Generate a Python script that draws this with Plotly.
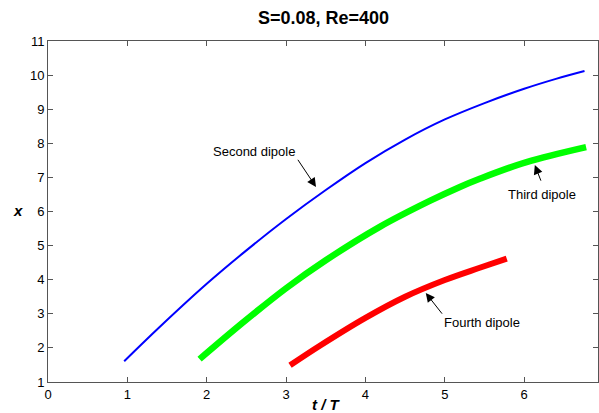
import plotly.graph_objects as go

# Second dipole (blue)
t2 = [0.96, 1.41, 2.0, 2.5, 3.0, 3.5, 4.0, 4.5, 5.0, 5.5, 6.0, 6.4, 6.76]
x2 = [1.61, 2.62, 3.88, 4.86, 5.78, 6.63, 7.42, 8.11, 8.70, 9.18, 9.60, 9.89, 10.12]
# Third dipole (green)
t3 = [1.91, 2.46, 3.0, 3.5, 4.18, 4.81, 5.19, 5.44, 6.03, 6.78]
x3 = [1.67, 2.75, 3.75, 4.57, 5.55, 6.31, 6.72, 6.96, 7.45, 7.89]
# Fourth dipole (red)
t4 = [3.05, 3.43, 4.0, 4.5, 5.0, 5.44, 5.78]
x4 = [1.49, 2.07, 2.88, 3.50, 3.99, 4.35, 4.62]

xticks = [0, 1, 2, 3, 4, 5, 6]
yticks = [1, 2, 3, 4, 5, 6, 7, 8, 9, 10, 11]

FONT = "Liberation Sans, Arial, Helvetica, sans-serif"

fig = go.Figure()
fig.add_trace(go.Scatter(x=t2, y=x2, mode="lines", line=dict(color="#0000FF", width=2, shape="spline", smoothing=1.0), name="Second dipole"))
fig.add_trace(go.Scatter(x=t3, y=x3, mode="lines", line=dict(color="#00FF00", width=6.5, shape="spline", smoothing=1.0), name="Third dipole"))
fig.add_trace(go.Scatter(x=t4, y=x4, mode="lines", line=dict(color="#FF0000", width=6, shape="spline", smoothing=1.0), name="Fourth dipole"))

axis_common = dict(showline=True, linecolor="#555555", linewidth=1, mirror="ticks",
                   ticks="inside", ticklen=5, tickcolor="#555555", showgrid=False,
                   zeroline=False, tickfont=dict(family=FONT, size=13, color="black"))

fig.update_xaxes(range=[0, 6.93], tickvals=xticks, ticktext=[str(v) for v in xticks], **axis_common)
fig.update_yaxes(range=[1, 11], tickvals=yticks, ticktext=[str(v) for v in yticks], **axis_common)

ann = []
ann.append(dict(text="<b>S=0.08, Re=400</b>", xref="paper", yref="paper", x=0.5, y=1 + (41 - 18) / 341,
                xanchor="center", yanchor="middle", showarrow=False, font=dict(family=FONT, size=18, color="black")))
ann.append(dict(text="<b><i>t / T</i></b>", xref="paper", yref="paper", x=(326 - 48) / 550, y=-(404 - 381.7) / 341,
                xanchor="center", yanchor="middle", showarrow=False, font=dict(family=FONT, size=15, color="black")))
ann.append(dict(text="<b><i>x</i></b>", xref="paper", yref="paper", x=(18 - 48) / 550, y=(381.7 - 210) / 341,
                xanchor="center", yanchor="middle", showarrow=False, font=dict(family=FONT, size=15, color="black")))
for txt, tx, ty in [("Second dipole", 2.6, 7.77), ("Third dipole", 6.22, 6.50), ("Fourth dipole", 5.47, 2.74)]:
    ann.append(dict(text=txt, x=tx, y=ty, xref="x", yref="y", showarrow=False, xanchor="center", yanchor="middle",
                    font=dict(family=FONT, size=13, color="black")))
for (hx, hy, tx, ty) in [(3.377, 6.72, 3.136, 7.56), (6.134, 7.36, 6.218, 6.86), (4.76, 3.61, 4.98, 2.96)]:
    ann.append(dict(text="", x=hx, y=hy, ax=tx, ay=ty, xref="x", yref="y", axref="x", ayref="y",
                    showarrow=True, arrowhead=2, arrowsize=1.8, arrowwidth=1, arrowcolor="black", standoff=0, startstandoff=0))

fig.update_layout(width=599, height=413, margin=dict(l=48, r=1, t=41, b=31),
                  paper_bgcolor="white", plot_bgcolor="white", showlegend=False,
                  annotations=ann, font=dict(family=FONT))

fig.write_html("out.html")
